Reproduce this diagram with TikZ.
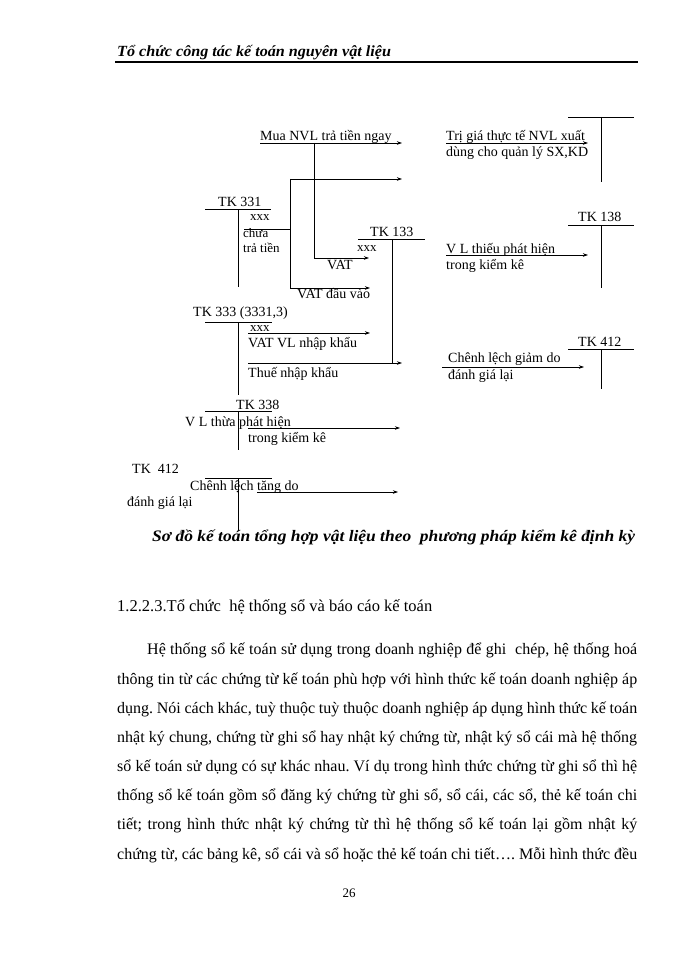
\documentclass[tikz,border=0pt]{standalone}
\usepackage{fontspec}
\setmainfont{Liberation Serif}
\usetikzlibrary{arrows.meta}
\begin{document}
\frenchspacing
\begin{tikzpicture}[x=1pt,y=-1pt,
  lbl/.style={inner sep=0pt, anchor=base west, font=\fontsize{14}{15}\selectfont},
  small/.style={inner sep=0pt, anchor=base west, font=\fontsize{13}{14}\selectfont},
  tline/.style={line width=0.7pt},
  arr/.style={line width=0.7pt,-{Stealth[length=5pt,width=3.5pt]}},
  body/.style={inner sep=0pt, anchor=base west, font=\fontsize{16}{18}\selectfont},
  bi/.style={inner sep=0pt, anchor=base west, font=\fontsize{15.5}{16}\selectfont\bfseries\itshape}]
\useasboundingbox[fill=white] (0,0) rectangle (700,960);

% header
\node[bi] (hdr) at (117,57) {\scalebox{1.04}[1]{Tổ chức công tác kế toán nguyên vật liệu}};
\coordinate (hl) at (115,62); \coordinate (hr) at (638,62);
\draw[line width=1.6pt] (hl) -- (hr);

% ---- T accounts (right) ----
\coordinate (t1l) at (568,117); \coordinate (t1r) at (634,117);
\coordinate (t1a) at (601,117); \coordinate (t1b) at (601,182);
\coordinate (t2l) at (568,225); \coordinate (t2r) at (634,225);
\coordinate (t2a) at (601,225); \coordinate (t2b) at (601,288);
\coordinate (t3l) at (568,349); \coordinate (t3r) at (634,349);
\coordinate (t3a) at (601,349); \coordinate (t3b) at (601,389);
% ---- T accounts (left) ----
\coordinate (a1l) at (205,209); \coordinate (a1r) at (271,209);
\coordinate (a1a) at (238,209); \coordinate (a1b) at (238,287);
\coordinate (b1l) at (358,239); \coordinate (b1r) at (425,239);
\coordinate (b1a) at (392,239); \coordinate (b1b) at (392,363);
\coordinate (c1l) at (205,322); \coordinate (c1r) at (272,322);
\coordinate (c1a) at (238,322); \coordinate (c1b) at (238,395);
\coordinate (d1l) at (205,411); \coordinate (d1r) at (272,411);
\coordinate (d1a) at (238,411); \coordinate (d1b) at (238,450);
\coordinate (e1l) at (205,478); \coordinate (e1r) at (272,478);
\coordinate (e1a) at (238,478); \coordinate (e1b) at (238,530);

\foreach \t in {t1,t2,t3,a1,b1,c1,d1,e1}{
  \draw[tline] (\t l) -- (\t r);
  \draw[tline] (\t a) -- (\t b);
}

% ---- connectors ----
\coordinate (m1) at (260,143); \coordinate (m2) at (402,143);
\coordinate (mv) at (314,143); \coordinate (mvb) at (314,258); \coordinate (vat) at (369,258);
\coordinate (s1) at (290,179); \coordinate (s2) at (402,179);
\coordinate (svb) at (290,288); \coordinate (vdv) at (370,288);
\coordinate (k1) at (244,229); \coordinate (k2) at (290,229);
\coordinate (n1) at (248,333); \coordinate (n2) at (370,333);
\coordinate (q1) at (248,363); \coordinate (q2) at (402,363);
\coordinate (r1) at (248,428); \coordinate (r2) at (400,428);
\coordinate (u1) at (257,492); \coordinate (u2) at (398,492);
\coordinate (x1) at (446,143); \coordinate (x2) at (588,143);
\coordinate (y1) at (446,255); \coordinate (y2) at (588,255);
\coordinate (z1) at (442,367); \coordinate (z2) at (584,367);

\draw[arr] (m1) -- (m2);
\draw[tline] (mv) -- (mvb);
\draw[arr] (mvb) -- (vat);
\draw[arr] (s1) -- (s2);
\draw[tline] (s1) -- (svb);
\draw[arr] (svb) -- (vdv);
\draw[tline] (k1) -- (k2);
\draw[arr] (n1) -- (n2);
\draw[arr] (q1) -- (q2);
\draw[arr] (r1) -- (r2);
\draw[arr] (u1) -- (u2);
\draw[arr] (x1) -- (x2);
\draw[arr] (y1) -- (y2);
\draw[arr] (z1) -- (z2);

% ---- labels ----
\node[lbl] (l1) at (260,141) {Mua NVL trả tiền ngay};
\node[lbl] (l2) at (218,206) {TK 331};
\node[small] (l3) at (250,220) {xxx};
\node[small] (l4) at (243,237) {chưa};
\node[small] (l5) at (243,252) {trả tiền};
\node[lbl] (l6) at (370,236) {TK 133};
\node[small] (l7) at (357,251) {xxx};
\node[lbl] (l8) at (327,269) {VAT};
\node[lbl] (l9) at (297,298) {VAT đầu vào};
\node[lbl] (l10) at (193,316) {TK 333 (3331,3)};
\node[small] (l11) at (250,331) {xxx};
\node[lbl] (l12) at (248,347) {VAT VL nhập khẩu};
\node[lbl] (l13) at (248,377) {Thuế nhập khẩu};
\node[lbl] (l14) at (236,409) {TK 338};
\node[lbl] (l15) at (185,426) {V L thừa phát hiện};
\node[lbl] (l16) at (248,442) {trong kiểm kê};
\node[lbl] (l17) at (132,473) {TK\ \ 412};
\node[lbl] (l18) at (190,490) {Chênh lệch tăng do};
\node[lbl] (l19) at (127,506) {đánh giá lại};
\node[lbl] (r1l) at (446,141) {Trị giá thực tế NVL xuất};
\node[lbl] (r2l) at (446,157) {dùng cho quản lý SX,KD};
\node[lbl] (r3l) at (578,221) {TK 138};
\node[lbl] (r4l) at (446,253) {V L thiếu phát hiện};
\node[lbl] (r5l) at (446,269) {trong kiểm kê};
\node[lbl] (r6l) at (578,346) {TK 412};
\node[lbl] (r7l) at (448,362) {Chênh lệch giảm do};
\node[lbl] (r8l) at (448,379) {đánh giá lại};

% caption
\node[bi, font=\fontsize{16}{17}\selectfont\bfseries\itshape] (cap) at (152,541) {\scalebox{1.09}[1]{Sơ đồ kế toán tổng hợp vật liệu theo\ \ phương pháp kiểm kê định kỳ}};

% body
\node[body, font=\fontsize{16.5}{18}\selectfont] (h) at (117,611) {1.2.2.3.Tổ chức\ \ hệ thống sổ và báo cáo kế toán};
\node[body] (p1) at (147,654) {\makebox[490pt][s]{Hệ thống sổ kế toán sử dụng trong doanh nghiệp để ghi\ \ chép, hệ thống hoá}};
\node[body] (p2) at (117,684) {\makebox[520pt][s]{thông tin từ các chứng từ kế toán phù hợp với hình thức kế toán doanh nghiệp áp}};
\node[body] (p3) at (117,713) {\makebox[520pt][s]{dụng. Nói cách khác, tuỳ thuộc tuỳ thuộc doanh nghiệp áp dụng hình thức kế toán}};
\node[body] (p4) at (117,742) {\makebox[520pt][s]{nhật ký chung, chứng từ ghi sổ hay nhật ký chứng từ, nhật ký sổ cái mà hệ thống}};
\node[body] (p5) at (117,771) {\makebox[520pt][s]{sổ kế toán sử dụng có sự khác nhau. Ví dụ trong hình thức chứng từ ghi sổ thì hệ}};
\node[body] (p6) at (117,800) {\makebox[520pt][s]{thống sổ kế toán gồm sổ đăng ký chứng từ ghi sổ, sổ cái, các sổ, thẻ kế toán chi}};
\node[body] (p7) at (117,829) {\makebox[520pt][s]{tiết; trong hình thức nhật ký chứng từ thì hệ thống sổ kế toán lại gồm nhật ký}};
\node[body] (p8) at (117,859) {\makebox[520pt][s]{chứng từ, các bảng kê, sổ cái và sổ hoặc thẻ kế toán chi tiết…. Mỗi hình thức đều}};

\node[inner sep=0pt, anchor=base, font=\fontsize{13}{15}\selectfont] (pg) at (349,897) {26};
\end{tikzpicture}
\end{document}
